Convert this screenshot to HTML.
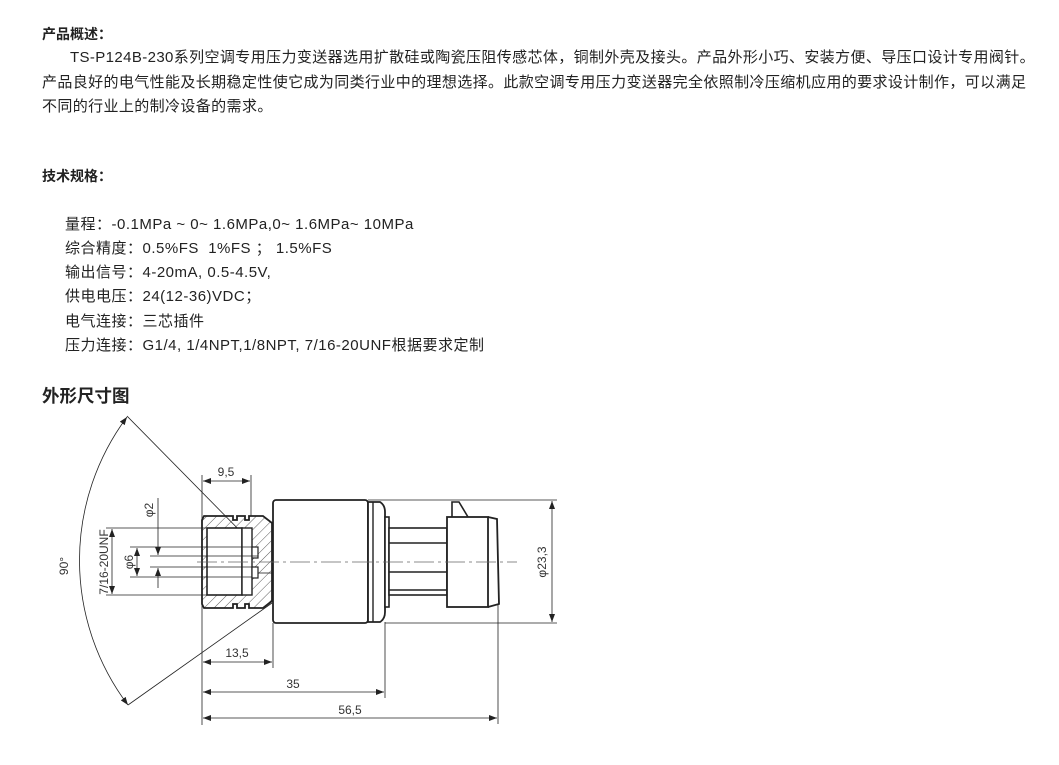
<!DOCTYPE html>
<html><head><meta charset="utf-8"><style>
body{margin:0;background:#fff;width:1059px;height:765px;position:relative;overflow:hidden;font-family:"Liberation Sans","Noto Sans CJK SC",sans-serif;color:#222;}
.t{position:absolute;white-space:nowrap;font-size:15px;letter-spacing:0.38px;line-height:20px;}
.s{letter-spacing:0.5px;}
.b{font-weight:bold;font-size:14px;letter-spacing:0;}
.h{position:absolute;font-weight:bold;font-size:17.5px;white-space:nowrap;}
svg{position:absolute;left:0;top:0;}
</style></head><body>
<div class="t b" style="left:42px;top:24px">产品概述：</div>
<div class="t" style="left:70px;top:48px">TS-P124B-230系列空调专用压力变送器选用扩散硅或陶瓷压阻传感芯体，铜制外壳及接头。产品外形小巧、安装方便、导压口设计专用阀针。</div>
<div class="t" style="left:42px;top:73px">产品良好的电气性能及长期稳定性使它成为同类行业中的理想选择。此款空调专用压力变送器完全依照制冷压缩机应用的要求设计制作，可以满足</div>
<div class="t" style="left:42px;top:97px">不同的行业上的制冷设备的需求。</div>
<div class="t b" style="left:42px;top:166px">技术规格：</div>
<div class="t s" style="left:65px;top:215px">量程：-0.1MPa ~ 0~ 1.6MPa,0~ 1.6MPa~ 10MPa</div>
<div class="t s" style="left:65px;top:239px">综合精度：0.5%FS&nbsp; 1%FS ； 1.5%FS</div>
<div class="t s" style="left:65px;top:263px">输出信号：4-20mA, 0.5-4.5V,</div>
<div class="t s" style="left:65px;top:287px">供电电压：24(12-36)VDC；</div>
<div class="t s" style="left:65px;top:312px">电气连接：三芯插件</div>
<div class="t s" style="left:65px;top:336px">压力连接：G1/4, 1/4NPT,1/8NPT, 7/16-20UNF根据要求定制</div>
<div class="h" style="left:42px;top:383px">外形尺寸图</div>
<svg width="1059" height="765" viewBox="0 0 1059 765">
<defs>
<pattern id="hp" width="7" height="7" patternUnits="userSpaceOnUse" patternTransform="rotate(45)"><line x1="0" y1="0" x2="0" y2="7" stroke="#333" stroke-width="0.8"/></pattern>
<marker id="a" markerWidth="8" markerHeight="6" refX="8" refY="3" orient="auto-start-reverse" markerUnits="userSpaceOnUse"><path d="M0,0 L8,3 L0,6z" fill="#222"/></marker>
</defs>
<g fill="none" stroke="#222" stroke-width="0.8">
<line x1="127" y1="416" x2="252" y2="543"/>
<line x1="128" y1="705" x2="272" y2="603"/>
<path d="M127,417 A240,240 0 0 0 128,705" marker-start="url(#a)" marker-end="url(#a)"/>
<path d="M202,520 L204,516 L233,516 L233,520 L237,520 L237,516 L245,516 L245,520 L249,520 L249,516 L263,516 L272,523 L272,601 L263,608 L249,608 L249,604 L245,604 L245,608 L237,608 L237,604 L233,604 L233,608 L204,608 L202,604Z" fill="url(#hp)" stroke-width="1.8"/>
<rect x="207" y="528" width="35" height="67" fill="#fff" stroke-width="1.6"/>
<rect x="242" y="528" width="10" height="67" fill="#fff" stroke-width="1.4"/>
<rect x="252" y="547" width="6" height="11" fill="#fff" stroke-width="1.2"/>
<rect x="252" y="567" width="6" height="11" fill="#fff" stroke-width="1.2"/>
<line x1="258" y1="573" x2="272" y2="573"/>
<rect x="273" y="500" width="95" height="123" rx="3" fill="#fff" stroke-width="1.8"/>
<path d="M368,502 L380,502 Q385,505 385,512 L385,612 Q385,619 380,622 L368,622Z" fill="#fff" stroke-width="1.8"/>
<line x1="373" y1="502" x2="373" y2="622" stroke-width="1.4"/>
<rect x="385" y="517" width="4" height="90" fill="#fff" stroke-width="1.6"/>
<rect x="389" y="528" width="58" height="67" fill="#fff" stroke-width="1.6"/>
<line x1="389" y1="543" x2="447" y2="543" stroke-width="1.4"/>
<line x1="389" y1="572" x2="447" y2="572" stroke-width="1.4"/>
<line x1="389" y1="590" x2="447" y2="590" stroke-width="1.4"/>
<rect x="447" y="517" width="41" height="90" fill="#fff" stroke-width="1.8"/>
<path d="M488,517 L497,519 L499,604 L488,607" stroke-width="1.8"/>
<path d="M452,517 L452,502 L459,502 L468,517" stroke-width="1.6"/>
<line x1="197" y1="562" x2="517" y2="562" stroke-dasharray="20,4,3,4" stroke="#666"/>
<line x1="202" y1="475" x2="202" y2="725"/>
<line x1="251" y1="475" x2="251" y2="516"/>
<line x1="203" y1="481" x2="250" y2="481" marker-start="url(#a)" marker-end="url(#a)"/>
<line x1="273" y1="623" x2="273" y2="668"/>
<line x1="203" y1="662" x2="272" y2="662" marker-start="url(#a)" marker-end="url(#a)"/>
<line x1="385" y1="622" x2="385" y2="698"/>
<line x1="203" y1="692" x2="384" y2="692" marker-start="url(#a)" marker-end="url(#a)"/>
<line x1="498" y1="604" x2="498" y2="724"/>
<line x1="203" y1="718" x2="497" y2="718" marker-start="url(#a)" marker-end="url(#a)"/>
<line x1="368" y1="500" x2="557" y2="500"/>
<line x1="385" y1="623" x2="557" y2="623"/>
<line x1="552" y1="501" x2="552" y2="622" marker-start="url(#a)" marker-end="url(#a)"/>
<line x1="106" y1="528" x2="207" y2="528"/>
<line x1="106" y1="595" x2="207" y2="595"/>
<line x1="112" y1="529" x2="112" y2="594" marker-start="url(#a)" marker-end="url(#a)"/>
<line x1="130" y1="547" x2="252" y2="547"/>
<line x1="130" y1="577" x2="252" y2="577"/>
<line x1="137" y1="548" x2="137" y2="576" marker-start="url(#a)" marker-end="url(#a)"/>
<line x1="150" y1="556" x2="258" y2="556"/>
<line x1="150" y1="567" x2="258" y2="567"/>
<line x1="158" y1="498" x2="158" y2="555" marker-end="url(#a)"/>
<line x1="158" y1="588" x2="158" y2="568" marker-end="url(#a)"/>
</g>
<g font-family="Liberation Sans, sans-serif" font-size="12" fill="#333" text-anchor="middle">
<text x="226" y="476">9,5</text>
<text x="237" y="657">13,5</text>
<text x="293" y="688">35</text>
<text x="350" y="714">56,5</text>
<text transform="translate(546,562) rotate(-90)">φ23,3</text>
<text transform="translate(108,562) rotate(-90)">7/16-20UNF</text>
<text transform="translate(133,562) rotate(-90)">φ6</text>
<text transform="translate(153,510) rotate(-90)">φ2</text>
<text transform="translate(68,566) rotate(-90)">90°</text>
</g>
</svg>
</body></html>
